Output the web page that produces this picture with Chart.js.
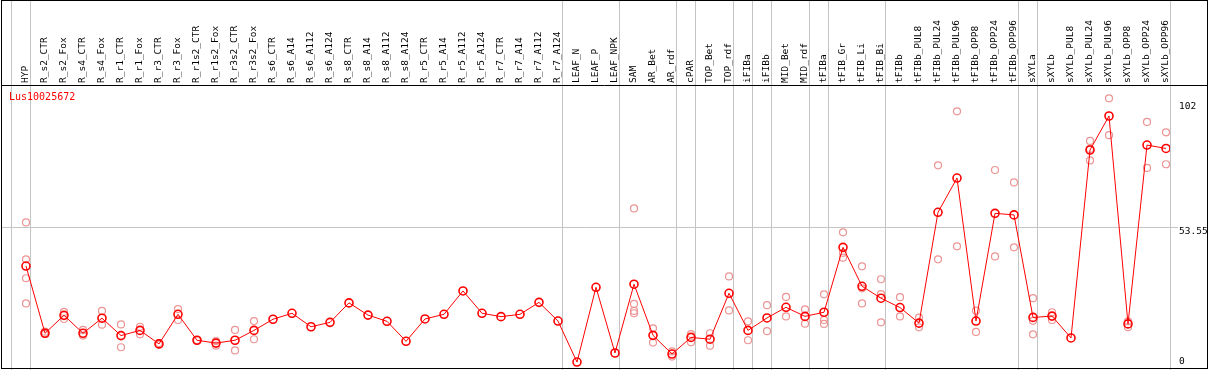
<!DOCTYPE html>
<html>
<head>
<meta charset="utf-8">
<script src="https://cdn.jsdelivr.net/npm/chart.js@4/dist/chart.umd.min.js"></script>
<style>
  html, body { margin: 0; padding: 0; background: #fff; }
  canvas { display: block; }
</style>
</head>
<body>
<canvas id="geneChart" width="1209" height="370"></canvas>
<script>
const geneName = "Lus10025672";

const categories = [
  "HYP", "R_s2_CTR", "R_s2_Fox", "R_s4_CTR", "R_s4_Fox", "R_r1_CTR", "R_r1_Fox",
  "R_r3_CTR", "R_r3_Fox", "R_r1s2_CTR", "R_r1s2_Fox", "R_r3s2_CTR", "R_r3s2_Fox",
  "R_s6_CTR", "R_s6_A14", "R_s6_A112", "R_s6_A124", "R_s8_CTR", "R_s8_A14",
  "R_s8_A112", "R_s8_A124", "R_r5_CTR", "R_r5_A14", "R_r5_A112", "R_r5_A124",
  "R_r7_CTR", "R_r7_A14", "R_r7_A112", "R_r7_A124", "LEAF_N", "LEAF_P", "LEAF_NPK",
  "SAM", "AR_Bet", "AR_rdf", "cPAR", "TOP_Bet", "TOP_rdf", "iFIBa", "iFIBb",
  "MID_Bet", "MID_rdf", "tFIBa", "tFIB_Gr", "tFIB_Li", "tFIB_Bi", "tFIBb",
  "tFIBb_PUL8", "tFIBb_PUL24", "tFIBb_PUL96", "tFIBb_OPP8", "tFIBb_OPP24", "tFIBb_OPP96",
  "sXYLa", "sXYLb", "sXYLb_PUL8", "sXYLb_PUL24", "sXYLb_PUL96", "sXYLb_OPP8",
  "sXYLb_OPP24", "sXYLb_OPP96"
];

const means = [
  38.9, 13.0, 19.9, 13.0, 18.8, 12.1, 14.1, 8.9, 20.3, 10.3, 9.2, 10.3, 14.1,
  18.4, 20.7, 15.5, 17.2, 24.7, 20.0, 17.6, 9.9, 18.5, 20.3, 29.3, 20.7,
  19.4, 20.3, 24.9, 17.7, 1.9, 30.7, 5.4,
  31.9, 12.2, 5.0, 11.4, 10.7, 28.4, 14.1, 18.9, 23.0, 19.5, 21.1, 46.1, 31.1, 26.5, 22.9,
  16.9, 59.6, 72.8, 17.7, 59.2, 58.6,
  19.1, 19.6, 11.2, 83.6, 96.7, 16.6, 85.5, 84.2
];

const replicates = [
  [55.7, 41.5, 34.2, 24.5], [13.6, 12.7, 12.9], [21.2, 18.5], [14.3, 12.1], [21.6, 16.3],
  [16.4, 7.6], [15.5, 12.6], [8.6, 9.2], [22.3, 18.1], [10.2, 10.4], [8.2, 10.0],
  [14.3, 6.4], [17.7, 10.7],
  [], [], [], [], [], [], [], [], [], [], [], [], [], [], [], [], [], [], [],
  [61.1, 24.3, 21.6, 20.7], [14.9, 9.4], [6.0, 4.0], [12.7, 9.5], [13.0, 8.2],
  [34.9, 21.8], [17.6, 10.3], [23.8, 13.8], [27.0, 19.5], [22.2, 16.7],
  [28.0, 18.1, 16.6], [51.9, 44.0, 42.1], [38.8, 30.3, 24.5], [33.8, 28.1, 17.2],
  [26.9, 19.5], [19.0, 15.3], [77.7, 41.5], [98.5, 46.5], [21.7, 13.5], [75.9, 42.6],
  [71.1, 46.1],
  [26.5, 17.8, 12.6], [21.1, 18.1], [], [87.1, 84.0, 79.6], [103.5, 89.3],
  [17.6, 15.3], [94.4, 76.7], [90.4, 78.1]
];

const yTicks = [0, 53.55, 102];

// gray group separators are drawn just after these category indices
const separatorsAfter = [-1, 0, 28, 31, 34, 35, 37, 38, 39, 41, 42, 45, 52, 53, 60];

const monoFont = { family: "'DejaVu Sans Mono', monospace", size: 9.5 };

const meanPoints = means.map((v, i) => ({ x: i, y: v }));
const repPoints = [];
replicates.forEach((reps, i) => {
  reps.forEach(v => repPoints.push({ x: i, y: v }));
});

function noPadding(scale) {
  scale.paddingLeft = 0;
  scale.paddingRight = 0;
  scale.paddingTop = 0;
  scale.paddingBottom = 0;
}

const framePlugin = {
  id: "frame",
  beforeDatasetsDraw(chart) {
    const ctx = chart.ctx;
    const xs = chart.scales.x;
    ctx.save();
    ctx.strokeStyle = "#c4c4c4";
    ctx.lineWidth = 1;
    separatorsAfter.forEach(i => {
      const px = Math.round(xs.getPixelForValue(i + 0.23)) + 0.5;
      ctx.beginPath();
      ctx.moveTo(px, 0);
      ctx.lineTo(px, chart.height);
      ctx.stroke();
    });
    ctx.restore();
  },
  afterDraw(chart) {
    const ctx = chart.ctx;
    const top = chart.chartArea.top;
    ctx.save();
    ctx.strokeStyle = "#000";
    ctx.lineWidth = 1;
    ctx.strokeRect(1.5, 0.5, 1206, 368);
    ctx.beginPath();
    ctx.moveTo(1, top + 0.5);
    ctx.lineTo(1208, top + 0.5);
    ctx.stroke();
    ctx.fillStyle = "#ff0000";
    ctx.font = "10px 'DejaVu Sans Mono', monospace";
    ctx.textBaseline = "middle";
    ctx.fillText(geneName, 9, top + 12);
    ctx.restore();
  }
};

new Chart(document.getElementById("geneChart"), {
  type: "line",
  data: {
    datasets: [
      {
        label: "mean",
        data: meanPoints,
        borderColor: "#ff0000",
        borderWidth: 1,
        pointRadius: 4,
        pointBorderWidth: 1.6,
        pointBorderColor: "#ff0000",
        pointBackgroundColor: "rgba(0,0,0,0)",
        tension: 0,
        fill: false
      },
      {
        label: "replicates",
        data: repPoints,
        showLine: false,
        pointRadius: 3.5,
        pointBorderWidth: 1.2,
        pointBorderColor: "#ec9494",
        pointBackgroundColor: "rgba(0,0,0,0)"
      }
    ]
  },
  options: {
    responsive: false,
    animation: false,
    layout: { autoPadding: false, padding: { left: 1, right: 0, top: 0, bottom: 1 } },
    plugins: {
      legend: { display: false },
      tooltip: { enabled: false },
      title: { display: false }
    },
    scales: {
      x: {
        type: "linear",
        position: "top",
        min: -1.3158,
        max: 60.21,
        grid: { display: false, drawTicks: false },
        border: { display: false },
        afterFit(scale) {
          scale.height = 85;
          noPadding(scale);
        },
        afterBuildTicks(scale) {
          scale.ticks = categories.map((c, i) => ({ value: i }));
        },
        ticks: {
          autoSkip: false,
          minRotation: 90,
          maxRotation: 90,
          padding: 2,
          labelOffset: 11,
          color: "#000",
          font: monoFont,
          callback: v => categories[v]
        }
      },
      y: {
        type: "linear",
        position: "right",
        min: -0.77,
        max: 108.64,
        border: { display: false },
        afterFit(scale) {
          scale.width = 39;
          noPadding(scale);
        },
        afterBuildTicks(scale) {
          scale.ticks = yTicks.map(v => ({ value: v }));
        },
        grid: {
          drawTicks: true,
          tickLength: 8,
          color: c => (c.tick && c.tick.value === 53.55 ? "#c4c4c4" : "rgba(0,0,0,0)")
        },
        ticks: {
          padding: 1,
          labelOffset: 4,
          color: "#000",
          // the bottom label sits above the frame, so lift it with a taller line
          font: c => (c.tick && c.tick.value === 0 ? { ...monoFont, lineHeight: 1.95 } : monoFont),
          callback: v => (v === 0 ? ["0", ""] : String(v))
        }
      }
    }
  },
  plugins: [framePlugin]
});
</script>
</body>
</html>
